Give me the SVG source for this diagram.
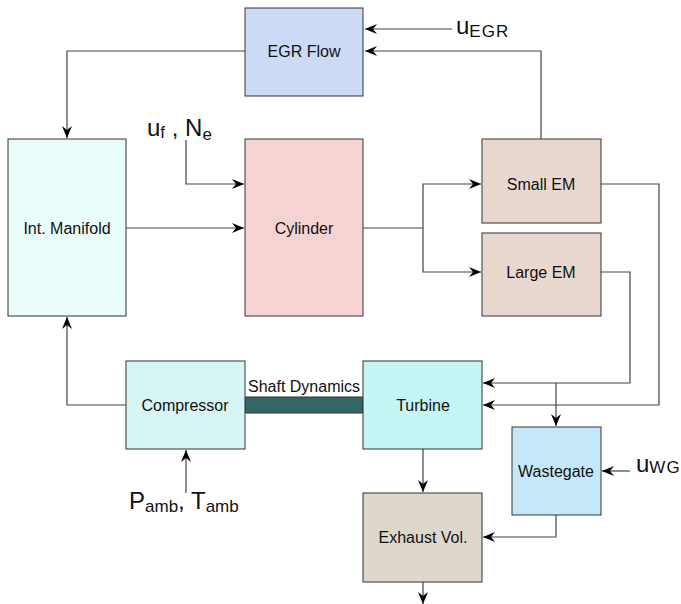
<svg xmlns="http://www.w3.org/2000/svg" width="681" height="604" viewBox="0 0 681 604">
<style>
.box{stroke:#333;stroke-width:1}
.lbl{font-family:"Liberation Sans",Arial,sans-serif;font-size:16px;fill:#111;text-anchor:middle}
.big{font-family:"Liberation Sans",Arial,sans-serif;font-size:24px;fill:#111}
.sub{font-size:17px}
.wire{fill:none;stroke:#444;stroke-width:1.2}
</style>
<defs>
<marker id="arr" viewBox="0 0 12 10" refX="12" refY="5" markerWidth="12" markerHeight="10" markerUnits="userSpaceOnUse" orient="auto">
<path d="M0,0 L12,5 L0,10 L4,5 z" fill="#000"/>
</marker>
</defs>
<rect width="681" height="604" fill="#fff"/>
<g id="connectors">
<path class="wire" d="M452,29 H365" marker-end="url(#arr)"/>
<path class="wire" d="M541,139 V51 H365" marker-end="url(#arr)"/>
<path class="wire" d="M245,51 H67 V138" marker-end="url(#arr)"/>
<path class="wire" d="M186,140 V184 H244" marker-end="url(#arr)"/>
<path class="wire" d="M126,228 H244" marker-end="url(#arr)"/>
<path class="wire" d="M363,228 H423"/>
<path class="wire" d="M423,228 V184 H481" marker-end="url(#arr)"/>
<path class="wire" d="M423,228 V272 H481" marker-end="url(#arr)"/>
<path class="wire" d="M601,184 H659 V405 H483" marker-end="url(#arr)"/>
<path class="wire" d="M601,272 H630 V383 H483" marker-end="url(#arr)"/>
<path class="wire" d="M556,383 V426" marker-end="url(#arr)"/>
<path class="wire" d="M126,405 H67 V317" marker-end="url(#arr)"/>
<path class="wire" d="M186,493 V450" marker-end="url(#arr)"/>
<path class="wire" d="M423,449 V492" marker-end="url(#arr)"/>
<path class="wire" d="M423,582 V604" marker-end="url(#arr)"/>
<path class="wire" d="M630,471 H602" marker-end="url(#arr)"/>
<path class="wire" d="M556,515 V537 H483" marker-end="url(#arr)"/>
</g>
<g id="egr">
<rect class="box" x="245" y="8" width="118" height="88" fill="#ccdaf6"/>
<text class="lbl" x="304" y="57">EGR Flow</text>
</g>
<g id="manifold">
<rect class="box" x="8" y="139" width="118" height="177" fill="#e8fdf9"/>
<text class="lbl" x="67" y="234">Int. Manifold</text>
</g>
<g id="cylinder">
<rect class="box" x="245" y="139" width="118" height="177" fill="#f5d3d3"/>
<text class="lbl" x="304" y="234">Cylinder</text>
</g>
<g id="smallem">
<rect class="box" x="482" y="139" width="119" height="84" fill="#e8d8d0"/>
<text class="lbl" x="541" y="190">Small EM</text>
</g>
<g id="largeem">
<rect class="box" x="482" y="233" width="119" height="83" fill="#e8d8d0"/>
<text class="lbl" x="541" y="278">Large EM</text>
</g>
<g id="shaft">
<rect x="245" y="397" width="118" height="16" fill="#336666" stroke="#333"/>
<text class="lbl" x="304" y="392">Shaft Dynamics</text>
</g>
<g id="compressor">
<rect class="box" x="126" y="361" width="119" height="88" fill="#d8f5f5"/>
<text class="lbl" x="185" y="411">Compressor</text>
</g>
<g id="turbine">
<rect class="box" x="363" y="361" width="119" height="88" fill="#c5f5f4"/>
<text class="lbl" x="423" y="411">Turbine</text>
</g>
<g id="wastegate">
<rect class="box" x="512" y="427" width="89" height="88" fill="#c5e8f8"/>
<text class="lbl" x="556" y="477">Wastegate</text>
</g>
<g id="exhaust">
<rect class="box" x="363" y="493" width="119" height="89" fill="#ddd8cb"/>
<text class="lbl" x="423" y="543">Exhaust Vol.</text>
</g>
<g id="labels">
<text class="big" x="456" y="34">u<tspan class="sub" dy="3" letter-spacing="1">EGR</tspan></text>
<text class="big" x="147" y="136">u<tspan class="sub" dy="2">f</tspan><tspan dy="-2"> , N</tspan><tspan class="sub" dy="4">e</tspan></text>
<text class="big" x="129" y="509">P<tspan class="sub" dy="3">amb</tspan><tspan dy="-3">, T</tspan><tspan class="sub" dy="3">amb</tspan></text>
<text class="big" x="636" y="472">u<tspan class="sub" dy="1" letter-spacing="1">WG</tspan></text>
</g>
</svg>
